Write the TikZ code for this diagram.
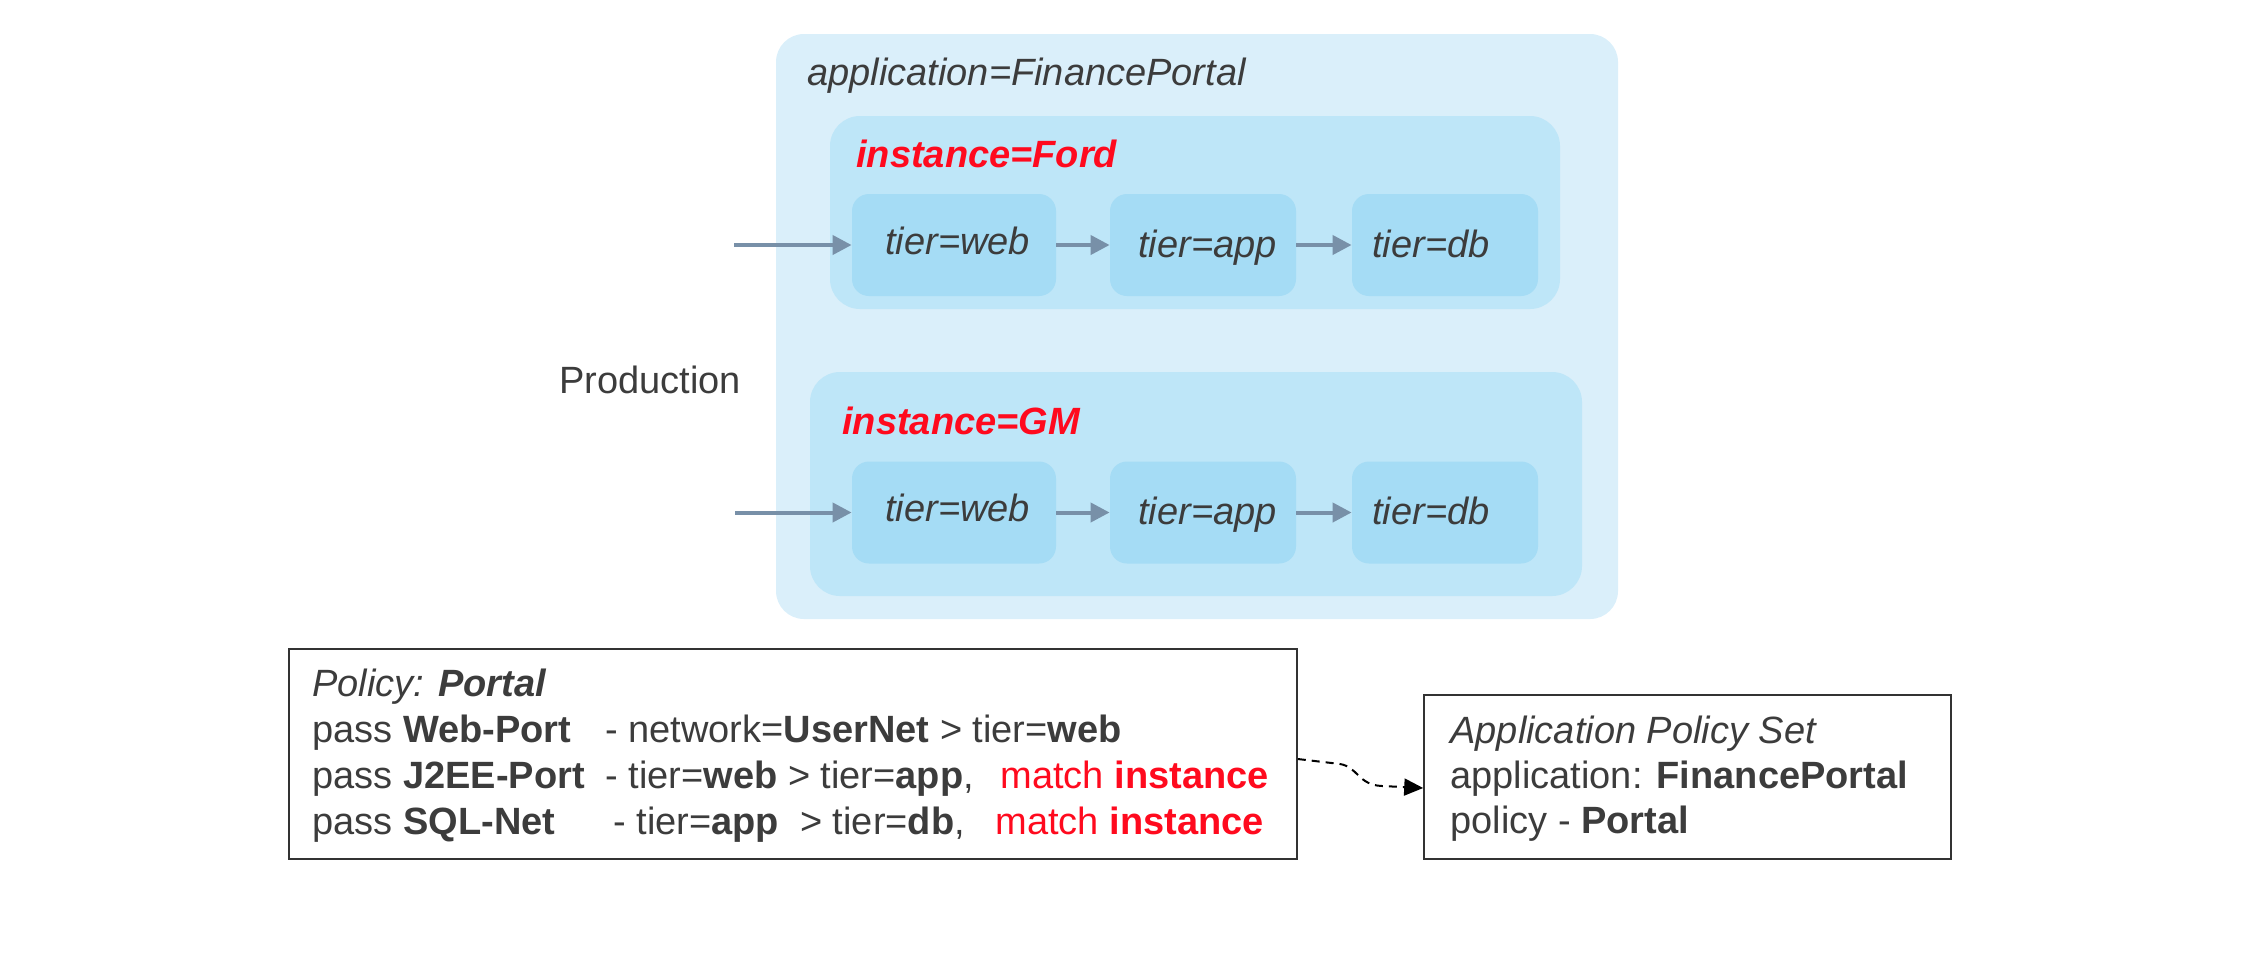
\documentclass[tikz,border=0pt]{standalone}
\usepackage{fontspec}
\setmainfont{Liberation Sans}
\usetikzlibrary{arrows.meta}
\definecolor{cOuter}{HTML}{DAEFFA}
\definecolor{cInst}{HTML}{BEE6F8}
\definecolor{cTier}{HTML}{A5DCF5}
\definecolor{cArrow}{HTML}{7890A8}
\definecolor{cTxt}{HTML}{3C3C3C}
\definecolor{cRed}{HTML}{FF0A1E}
\definecolor{cLine}{HTML}{333333}
\tikzset{
  lbl/.style={anchor=base west, inner sep=0pt, text=cTxt, font=\fontsize{19}{23}\selectfont},
  outerbox/.style={fill=cOuter, rounded corners=14pt, inner sep=0pt},
  instbox/.style={fill=cInst, rounded corners=15pt, inner sep=0pt},
  tierbox/.style={fill=cTier, rounded corners=8.5pt, inner sep=0pt, minimum height=51pt},
  flow/.style={draw=cArrow, line width=2pt, -{Triangle[length=9.5pt,width=9.5pt]}},
  textbox/.style={draw=cLine, line width=0.8pt, inner sep=0pt},
}
\begin{document}
\begin{tikzpicture}[x=0.5pt,y=-0.5pt]
\useasboundingbox (0,0) rectangle (2252,954);
% containers
\node[outerbox, minimum width=421pt, minimum height=292.5pt] (app) at (1197,326.5) {};
\node[instbox, minimum width=365pt, minimum height=96.5pt] (ford) at (1195,212.5) {};
\node[instbox, minimum width=386pt, minimum height=112pt] (gm) at (1196,484) {};
% labels
\node[lbl] (applbl) at (807,85) {\itshape application=FinancePortal};
\node[lbl, text=cRed] (fordlbl) at (856,167) {\bfseries\itshape instance=Ford};
\node[lbl, text=cRed] (gmlbl) at (842,434) {\bfseries\itshape instance=GM};
\node[lbl] (prod) at (559,393) {Production};
% Ford tiers
\node[tierbox, minimum width=102pt] (fweb) at (954,245) {};
\node[tierbox, minimum width=93pt] (fapp) at (1203,245) {};
\node[tierbox, minimum width=93pt] (fdb) at (1445,245) {};
\node[lbl] (fwebt) at (885,254) {\itshape tier=web};
\node[lbl] (fappt) at (1138,257) {\itshape tier=app};
\node[lbl] (fdbt) at (1372,257) {\itshape tier=db};
% GM tiers
\node[tierbox, minimum width=102pt] (gweb) at (954,512.5) {};
\node[tierbox, minimum width=93pt] (gapp) at (1203,512.5) {};
\node[tierbox, minimum width=93pt] (gdb) at (1445,512.5) {};
\node[lbl] (gwebt) at (885,521) {\itshape tier=web};
\node[lbl] (gappt) at (1138,524) {\itshape tier=app};
\node[lbl] (gdbt) at (1372,524) {\itshape tier=db};
% arrows
\coordinate (fin) at (734,245);
\coordinate (gin) at (735,512.5);
\draw[flow] (fin) -- (fweb.west);
\draw[flow] (fweb.east) -- (fapp.west);
\draw[flow] (fapp.east) -- (fdb.west);
\draw[flow] (gin) -- (gweb.west);
\draw[flow] (gweb.east) -- (gapp.west);
\draw[flow] (gapp.east) -- (gdb.west);
% policy box
\node[textbox, minimum width=504pt, minimum height=105pt] (pol) at (793,754) {};
\node[lbl] (p1) at (312,696) {\itshape Policy: \bfseries Portal};
\node[lbl] (p2) at (312,742) {\makebox[146.5pt][l]{pass \textbf{Web-Port}}- network=\textbf{UserNet} > tier=\textbf{web}};
\node[lbl] (p3) at (312,788) {\makebox[146.5pt][l]{pass \textbf{J2EE-Port}}\makebox[197.5pt][l]{- tier=\textbf{web} > tier=\textbf{app},}\textcolor{cRed}{match \textbf{instance}}};
\node[lbl] (p4) at (312,834) {\makebox[150.5pt][l]{pass \textbf{SQL-Net}}\makebox[191pt][l]{- tier=\textbf{app}\ \ > tier=\textbf{db},}\textcolor{cRed}{match \textbf{instance}}};
% application policy set box
\node[textbox, minimum width=263.5pt, minimum height=82pt] (aps) at (1687.5,777) {};
\node[lbl] (a1) at (1450,743) {\itshape Application Policy Set};
\node[lbl] (a2) at (1450,788) {application: \textbf{FinancePortal}};
\node[lbl] (a3) at (1450,833) {policy - \textbf{Portal}};
% dashed connector
\draw[black, line width=1pt, dash pattern=on 4pt off 3pt, -{Triangle[length=9.5pt,width=8.5pt]}]
  ([yshift=-2.5pt]pol.east) -- (1340,764) .. controls (1358,767) and (1358,785) .. (1382,786) -- ([yshift=-5.5pt]aps.west);
\end{tikzpicture}
\end{document}
